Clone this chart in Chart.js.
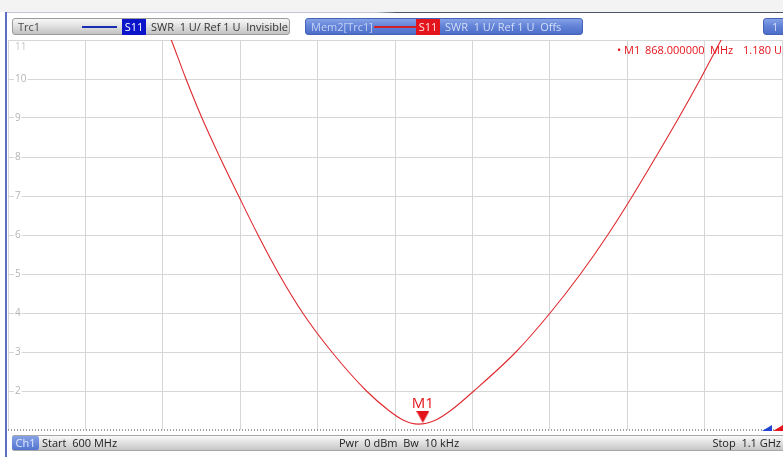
<!DOCTYPE html>
<html>
<head>
<meta charset="utf-8">
<script src="https://cdn.jsdelivr.net/npm/chart.js@4.4.1/dist/chart.umd.min.js"></script>
<style>
html,body{margin:0;padding:0;}
body{width:783px;height:457px;overflow:hidden;position:relative;background:#fff;font-family:"Open Sans",sans-serif;font-size:11px;}
.a{position:absolute;white-space:pre;box-sizing:border-box;}
#chartCanvas{position:absolute;left:0;top:0;}
#topband{left:0;top:0;width:783px;height:12px;background:#f3f3f3;}
#topline{left:5px;top:12px;width:778px;height:1px;background:linear-gradient(to right,#c2c6ce 0,#c2c6ce 372px,#46566f 392px,#46566f 100%);}
#leftline{left:5px;top:12px;width:2px;height:445px;background:#5a6ec4;}
.gbtn{top:18px;height:17px;border:1px solid #9c9c9c;border-radius:3px;background:linear-gradient(#f7f7f7,#e2e2e2 45%,#c2c2c2);}
.bbtn{top:18px;height:17px;border:1px solid #4462b8;border-radius:3px;background:linear-gradient(#86a2e6,#6484d8 45%,#4d6ec8);}
.t{line-height:17px;top:18px;}
.tb{line-height:16px;top:435px;}
</style>
</head>
<body>
<div class="a" id="topband"></div>
<canvas id="chartCanvas" width="790" height="457"></canvas>
<div class="a" id="topline"></div>
<div class="a" id="leftline"></div>

<!-- Trc1 header -->
<div class="a gbtn" style="left:12px;width:278px;"></div>
<div class="a t" style="left:18px;color:#4a4a4a;">Trc1</div>
<div class="a" style="left:82px;top:26px;width:35px;height:2px;background:#1a2cb0;"></div>
<div class="a t" style="left:122px;width:24px;height:16px;top:19px;line-height:15px;background:#0a14c8;color:#fff;text-align:center;">S11</div>
<div class="a t" style="left:151px;color:#333;">SWR  1 U/ Ref 1 U  Invisible</div>

<!-- Mem2 header -->
<div class="a bbtn" style="left:305px;width:278px;"></div>
<div class="a t" style="left:311px;color:#c4d2f6;">Mem2[Trc1]</div>
<div class="a" style="left:374px;top:26px;width:42px;height:2px;background:#d0202a;"></div>
<div class="a t" style="left:416px;width:24px;height:16px;top:19px;line-height:15px;background:#e4141c;color:#ffe4e4;text-align:center;">S11</div>
<div class="a t" style="left:445px;color:#d4def8;">SWR  1 U/ Ref 1 U  Offs</div>

<!-- "1" button -->
<div class="a bbtn" style="left:763px;width:24px;"></div>
<div class="a t" style="left:772px;color:#d4def8;">1</div>

<!-- marker readout -->
<div class="a" style="left:617px;top:43px;line-height:14px;color:#e4141c;">• M1</div>
<div class="a" style="left:645px;top:43px;line-height:14px;color:#e4141c;">868.000000</div>
<div class="a" style="left:710px;top:43px;line-height:14px;color:#e4141c;">MHz</div>
<div class="a" style="left:743px;top:43px;line-height:14px;color:#e4141c;">1.180 U</div>

<!-- top tick label -->
<div class="a" style="left:15px;top:40px;line-height:12px;font-size:10px;color:#c8c8c8;">11</div>

<!-- bottom-left reference indicator -->
<div class="a" style="left:8px;top:426px;height:5px;overflow:hidden;">
  <div style="margin-top:-6px;font-size:10px;line-height:11px;font-weight:bold;color:#222;white-space:pre;">1 U</div>
</div>

<!-- reference triangles -->
<div class="a" style="left:762px;top:425px;width:0;height:0;border-left:10px solid transparent;border-bottom:6px solid #2244d4;"></div>
<div class="a" style="left:773px;top:425px;width:0;height:0;border-left:10px solid transparent;border-bottom:6px solid #e4141c;"></div>

<!-- bottom bar -->
<div class="a" style="left:12px;top:435px;width:775px;height:16px;border:1px solid #a6a6a6;border-radius:2px;background:linear-gradient(#fbfbfb,#e4e4e4 40%,#c6c6c6);"></div>
<div class="a tb" style="left:12px;width:27px;height:14px;top:436px;line-height:14px;border-radius:2px;background:linear-gradient(#86a2e6,#5274d0);color:#e2eaff;text-align:center;">Ch1</div>
<div class="a tb" style="left:42px;color:#222;">Start  600 MHz</div>
<div class="a tb" style="left:339px;color:#222;">Pwr  0 dBm  Bw  10 kHz</div>
<div class="a tb" style="left:705px;width:76px;text-align:right;color:#222;">Stop  1.1 GHz</div>

<script>
// ---- data ----
const freqMHz = [700.5, 705.5, 715.0, 725.3, 736.8, 749.0, 761.5, 775.0, 790.4, 809.2, 831.6, 846.0, 855.5, 865.0,
                 876.0, 886.0, 900.9, 928.1, 950.2, 969.8, 987.4, 1003.4, 1018.5, 1033.2, 1047.3, 1060.7, 1065.0];
const swrValues = [11.5, 11, 10, 9, 8, 7, 6, 5, 4, 3, 2, 1.5, 1.25, 1.15,
                   1.25, 1.5, 2, 3, 4, 5, 6, 7, 8, 9, 10, 11, 11.3];
const markerFreqMHz = [868];
const markerSwr = [1.18];
const markerNames = ['M1'];
const refLevelFreq = [600, 1100];
const refLevelSwr = [1, 1];
const yTickLabels = [2, 3, 4, 5, 6, 7, 8, 9, 10];

const RED = '#e4141c';

// marker triangle whose tip sits at the point
const mk = document.createElement('canvas');
mk.width = 13; mk.height = 24;
const mc = mk.getContext('2d');
mc.fillStyle = RED;
mc.beginPath(); mc.moveTo(0, 0); mc.lineTo(13, 0); mc.lineTo(6.5, 12); mc.closePath(); mc.fill();

const markerLabel = {
  id: 'markerLabel',
  afterDatasetsDraw(chart) {
    const meta = chart.getDatasetMeta(1);
    const ctx = chart.ctx;
    ctx.save();
    ctx.font = '15px "Open Sans"';
    ctx.fillStyle = RED;
    ctx.textAlign = 'center';
    ctx.textBaseline = 'alphabetic';
    meta.data.forEach((el, i) => ctx.fillText(markerNames[i], el.x, el.y - 15));
    ctx.restore();
  }
};

new Chart(document.getElementById('chartCanvas'), {
  type: 'line',
  data: {
    datasets: [
      {
        data: freqMHz.map((f, i) => ({x: f, y: swrValues[i]})),
        borderColor: '#de2a30',
        borderWidth: 1.1,
        pointRadius: 0,
        cubicInterpolationMode: 'monotone',
        fill: false
      },
      {
        data: markerFreqMHz.map((f, i) => ({x: f, y: markerSwr[i]})),
        showLine: false,
        pointStyle: mk,
        pointRadius: 7,
        clip: false
      },
      {
        data: refLevelFreq.map((f, i) => ({x: f, y: refLevelSwr[i]})),
        borderColor: '#444',
        borderWidth: 1,
        borderDash: [1, 2],
        pointRadius: 0,
        clip: false
      }
    ]
  },
  options: {
    responsive: false,
    animation: false,
    devicePixelRatio: 1,
    layout: {padding: {left: 0, top: 40, right: 2.6, bottom: 27}},
    plugins: {legend: {display: false}, tooltip: {enabled: false}},
    scales: {
      x: {
        type: 'linear', min: 600, max: 1100,
        ticks: {display: false, stepSize: 50},
        grid: {color: '#d6d6d6', lineWidth: 1, drawTicks: false},
        border: {display: false}
      },
      y: {
        type: 'linear', min: 1, max: 11,
        afterFit(s) { s.width = 7; },
        ticks: {
          stepSize: 1, mirror: true, padding: 7,
          color: '#b4b4b4',
          font: {family: 'Open Sans', size: 10},
          callback: v => yTickLabels.includes(v) ? String(v) : '',
          showLabelBackdrop: true,
          backdropColor: c => yTickLabels.includes(c.tick && c.tick.value) ? '#fff' : 'rgba(0,0,0,0)',
          backdropPadding: {x: 1, y: 0}
        },
        grid: {
          color: c => (c.tick && c.tick.value === 1) ? 'rgba(0,0,0,0)' : '#d6d6d6',
          drawTicks: false
        },
        border: {display: false}
      }
    }
  },
  plugins: [markerLabel]
});
</script>
</body>
</html>
